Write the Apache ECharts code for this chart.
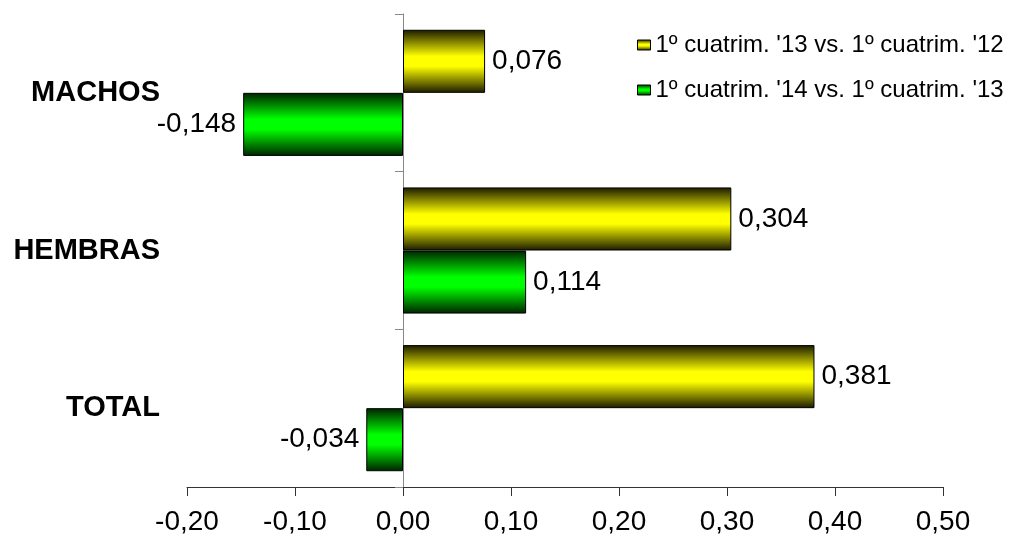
<!DOCTYPE html>
<html><head><meta charset="utf-8">
<script src="https://cdn.jsdelivr.net/npm/echarts@6/dist/echarts.min.js"></script>
<style>html,body{margin:0;padding:0;background:#fff}#c{width:1016px;height:541px}</style>
</head><body><div id="c"></div>
<script>
const categories = ['MACHOS', 'HEMBRAS', 'TOTAL'];
const seriesNames = ["1º cuatrim. '13 vs. 1º cuatrim. '12", "1º cuatrim. '14 vs. 1º cuatrim. '13"];
const values13vs12 = [0.076, 0.304, 0.381];
const values14vs13 = [-0.148, 0.114, -0.034];
const xTicks = { min: -0.2, max: 0.5, interval: 0.1 };

const FONT = 'Arial, "Liberation Sans", sans-serif';
function grad(dark, bright) {
  return new echarts.graphic.LinearGradient(0, 0, 0, 1, [
    { offset: 0, color: dark }, { offset: 0.42, color: bright },
    { offset: 0.58, color: bright }, { offset: 1, color: dark }
  ]);
}
const yellow = grad('#1a1a00', '#ffff00');
const green = grad('#002200', '#00ff00');
const fmt = v => v.toFixed(3).replace('.', ',');
function mk(vals) {
  return vals.map(v => ({ value: v, label: { position: v < 0 ? 'left' : 'right' } }));
}
const chart = echarts.init(document.getElementById('c'));
chart.setOption({
  animation: false,
  grid: { left: 187, right: 73, top: 14, bottom: 54, containLabel: false, outerBoundsMode: 'none' },
  legend: {
    orient: 'vertical', left: 632, top: 28, itemGap: 21,
    itemWidth: 13, itemHeight: 10,
    textStyle: { fontFamily: FONT, fontSize: 24, color: '#000' },
    data: [
      { name: seriesNames[0], icon: 'rect', itemStyle: { color: yellow, borderColor: '#000', borderWidth: 1 } },
      { name: seriesNames[1], icon: 'rect', itemStyle: { color: green, borderColor: '#000', borderWidth: 1 } }
    ]
  },
  xAxis: {
    type: 'value', min: xTicks.min, max: xTicks.max, interval: xTicks.interval,
    splitLine: { show: false },
    axisLine: { show: true, lineStyle: { color: '#333', width: 1 } },
    axisTick: { show: true, length: 9, lineStyle: { color: '#333' } },
    axisLabel: { fontFamily: FONT, fontSize: 28, color: '#000', margin: 21,
      formatter: v => v.toFixed(2).replace('.', ',') }
  },
  yAxis: {
    type: 'category', data: categories, inverse: true,
    axisLine: { show: true, onZero: true, lineStyle: { color: '#888' } },
    axisTick: { show: true, length: 8, lineStyle: { color: '#888' } },
    axisLabel: { fontFamily: FONT, fontSize: 29, fontWeight: 'bold', color: '#000', margin: 27 },
    position: 'left'
  },
  series: [
    { name: seriesNames[0], type: 'bar', data: mk(values13vs12), barGap: '0%', barCategoryGap: '20%',
      itemStyle: { color: yellow, borderColor: '#000', borderWidth: 1 },
      label: { show: true, distance: 7, fontFamily: FONT, fontSize: 28, color: '#000', formatter: p => fmt(p.value) } },
    { name: seriesNames[1], type: 'bar', data: mk(values14vs13), barGap: '0%', barCategoryGap: '20%',
      itemStyle: { color: green, borderColor: '#000', borderWidth: 1 },
      label: { show: true, distance: 7, fontFamily: FONT, fontSize: 28, color: '#000', formatter: p => fmt(p.value) } }
  ]
});
</script></body></html>
